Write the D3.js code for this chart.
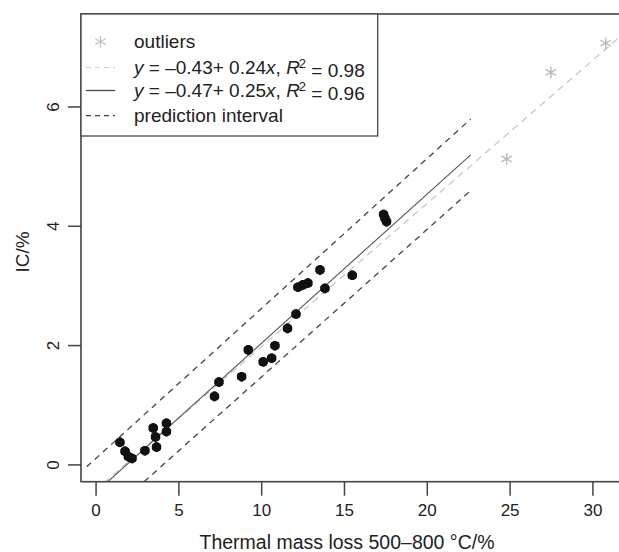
<!DOCTYPE html>
<html>
<head>
<meta charset="utf-8">
<script src="https://cdn.jsdelivr.net/npm/d3@7"></script>
<style>
  body { margin: 0; background: #fff; }
  text { font-family: "Liberation Sans", Arial, sans-serif; fill: #222; }
</style>
</head>
<body>
<svg id="chart" width="619" height="552"></svg>
<script>
// valores
const ptsX = [1.47, 1.78, 1.98, 2.2, 2.98, 3.48, 3.62, 3.68, 4.28, 4.28,
  7.18, 7.45, 8.82, 9.22, 10.12, 10.63, 10.83, 11.59, 12.1,
  12.22, 12.52, 12.82, 13.55, 13.85, 15.5, 17.39, 17.47, 17.57];
const ptsY = [0.37, 0.22, 0.13, 0.1, 0.23, 0.61, 0.46, 0.29, 0.55, 0.69,
  1.14, 1.38, 1.47, 1.92, 1.72, 1.78, 1.99, 2.28, 2.52,
  2.97, 3.01, 3.04, 3.26, 2.95, 3.17, 4.19, 4.13, 4.07];

const outX = [24.82, 27.49, 30.8];
const outY = [5.12, 6.57, 7.06];

// reta com outliers (cinza claro) e sem outliers (sólida)
const allFitX = [0.5, 32.5];
const allFitY = [-0.31, 7.37];
const fitX = [-0.5, 22.65];
const fitY = [-0.6, 5.19];

// intervalo de predição
const piX = [-0.54, 11, 22.65];
const piUpper = [-0.04, 2.86, 5.79];
const piLower = [-1.15, 1.71, 4.59];

const xTicks = [0, 5, 10, 15, 20, 25, 30];
const yTicks = [0, 2, 4, 6];

const svg = d3.select('#chart');

const mLeft = 81, mTop = 14, mRight = 630, mBottom = 481.7;
const font = '"Liberation Sans", Arial, sans-serif';

const x = d3.scaleLinear().domain([-0.88, 32.27]).range([mLeft, mRight]);
const y = d3.scaleLinear().domain([-0.29, 7.55]).range([mBottom, mTop]);

svg.append('defs').append('clipPath').attr('id', 'clip')
  .append('rect')
  .attr('x', mLeft).attr('y', mTop)
  .attr('width', mRight - mLeft).attr('height', mBottom - mTop);

const plot = svg.append('g').attr('clip-path', 'url(#clip)');

const line = d3.line().x(d => x(d[0])).y(d => y(d[1]));

// reta com outliers
plot.append('path')
  .datum(allFitX.map((v, i) => [v, allFitY[i]]))
  .attr('d', line)
  .attr('fill', 'none')
  .attr('stroke', '#c8c8c8')
  .attr('stroke-width', 1.3)
  .attr('stroke-dasharray', '7,5');

// intervalo de predição
[piUpper, piLower].forEach(arr => {
  plot.append('path')
    .datum(piX.map((v, i) => [v, arr[i]]))
    .attr('d', line)
    .attr('fill', 'none')
    .attr('stroke', '#444')
    .attr('stroke-width', 1.3)
    .attr('stroke-dasharray', '6,5');
});

// reta sem outliers
plot.append('path')
  .datum(fitX.map((v, i) => [v, fitY[i]]))
  .attr('d', line)
  .attr('fill', 'none')
  .attr('stroke', '#555')
  .attr('stroke-width', 1.1);

// outliers
const outSym = d3.symbol().type(d3.symbolAsterisk).size(100);
plot.selectAll('.out')
  .data(outX.map((v, i) => [v, outY[i]]))
  .enter()
  .append('path')
  .attr('d', outSym)
  .attr('transform', d => 'translate(' + x(d[0]) + ',' + y(d[1]) + ')')
  .attr('fill', 'none')
  .attr('stroke', '#bbb')
  .attr('stroke-width', 1.4);

// pontos
const ptSym = d3.symbol().type(d3.symbolAsterisk).size(64);
plot.selectAll('.pt')
  .data(ptsX.map((v, i) => [v, ptsY[i]]))
  .enter()
  .append('g')
  .attr('transform', d => 'translate(' + x(d[0]) + ',' + y(d[1]) + ')')
  .each(function () {
    const g = d3.select(this);
    g.append('circle').attr('r', 4.8).attr('fill', '#111');
    g.append('path').attr('d', ptSym)
      .attr('fill', 'none').attr('stroke', '#111').attr('stroke-width', 2.8);
  });

// caixa
svg.append('rect')
  .attr('x', mLeft).attr('y', mTop)
  .attr('width', mRight - mLeft).attr('height', mBottom - mTop)
  .attr('fill', 'none')
  .attr('stroke', '#444')
  .attr('stroke-width', 1.6);

// eixos
const xAxis = svg.append('g')
  .attr('transform', 'translate(0,' + mBottom + ')')
  .call(d3.axisBottom(x).tickValues(xTicks).tickSize(14).tickPadding(8));
xAxis.select('.domain').remove();
xAxis.selectAll('line').attr('stroke', '#444').attr('stroke-width', 1.5);
xAxis.selectAll('text').attr('font-size', 17).attr('fill', '#222')
  .style('font-family', font);

const yAxis = svg.append('g')
  .attr('transform', 'translate(' + mLeft + ',0)')
  .call(d3.axisLeft(y).tickValues(yTicks).tickSize(13).tickPadding(0));
yAxis.select('.domain').remove();
yAxis.selectAll('line').attr('stroke', '#444').attr('stroke-width', 1.5);
yAxis.selectAll('text')
  .attr('x', null)
  .attr('font-size', 17).attr('fill', '#222')
  .attr('text-anchor', 'middle')
  .attr('transform', 'translate(-28,0) rotate(-90)')
  .attr('dy', '0.35em')
  .style('font-family', font);

// títulos dos eixos
svg.append('text')
  .attr('x', 347).attr('y', 549)
  .attr('text-anchor', 'middle')
  .attr('font-size', 19.5)
  .text('Thermal mass loss 500–800 °C/%');

svg.append('text')
  .attr('transform', 'translate(29,252) rotate(-90)')
  .attr('text-anchor', 'middle')
  .attr('font-size', 19)
  .text('IC/%');

// legenda
const leg = svg.append('g');
leg.append('rect')
  .attr('x', mLeft).attr('y', mTop)
  .attr('width', 377.7 - mLeft).attr('height', 136 - mTop)
  .attr('fill', '#fff')
  .attr('stroke', '#444')
  .attr('stroke-width', 1.3);

const rowY = [41.7, 67.5, 90.5, 115.7];
const symX0 = 86, symX1 = 115, textX = 134;

leg.append('path')
  .attr('d', outSym)
  .attr('transform', 'translate(' + ((symX0 + symX1) / 2) + ',' + rowY[0] + ')')
  .attr('fill', 'none').attr('stroke', '#c4c4c4').attr('stroke-width', 1.3);

const legLines = [
  { y: rowY[1], color: '#d0d0d0', dash: '5,4', w: 1.2 },
  { y: rowY[2], color: '#444', dash: null, w: 1.3 },
  { y: rowY[3], color: '#444', dash: '5,4', w: 1.3 }
];
legLines.forEach(l => {
  leg.append('line')
    .attr('x1', symX0).attr('x2', symX1)
    .attr('y1', l.y).attr('y2', l.y)
    .attr('stroke', l.color)
    .attr('stroke-width', l.w)
    .attr('stroke-dasharray', l.dash);
});

function legText(yy) {
  return leg.append('text').attr('x', textX).attr('y', yy).attr('dy', '0.35em').attr('font-size', 19);
}

legText(rowY[0]).text('outliers');

function eqText(yy, a, b, r2) {
  const t = legText(yy);
  t.append('tspan').attr('font-style', 'italic').text('y');
  t.append('tspan').text(' = ' + a + '+ ' + b);
  t.append('tspan').attr('font-style', 'italic').text('x');
  t.append('tspan').text(', ');
  t.append('tspan').attr('font-style', 'italic').text('R');
  t.append('tspan').attr('font-size', 13).attr('dy', '-0.5em').attr('dx', '-1').text('2');
  t.append('tspan').attr('dy', '0.5em').text(' = ' + r2);
}
eqText(rowY[1], '–0.43', '0.24', '0.98');
eqText(rowY[2], '–0.47', '0.25', '0.96');

legText(rowY[3]).text('prediction interval');
</script>
</body>
</html>
